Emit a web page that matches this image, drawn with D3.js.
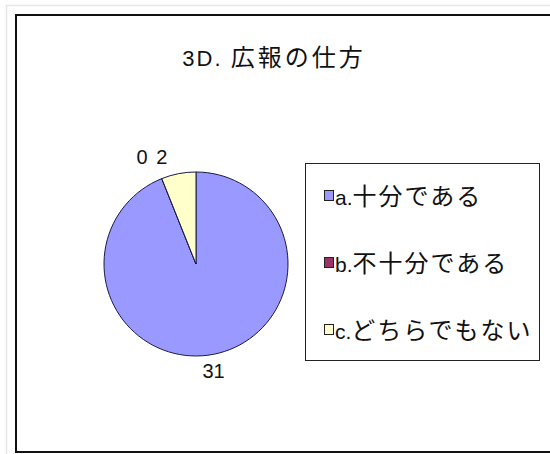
<!DOCTYPE html>
<html><head><meta charset="utf-8">
<script src="https://cdn.jsdelivr.net/npm/d3@7"></script>
<style>
html,body{margin:0;padding:0;background:#fff;}
svg{display:block;}
</style></head>
<body>
<svg id="chart" width="550" height="454"></svg>
<script>
const title = "3D. 広報の仕方";
const categories = ["a.十分である", "b.不十分である", "c.どちらでもない"];
const values = [31, 0, 2];
const colors = ["#9999FF", "#993366", "#FFFFCC"];

const svg = d3.select("#chart");
const font = "'Liberation Sans', Arial, 'Noto Sans CJK JP', sans-serif";

// write text as runs: Latin and CJK sized separately
function runs(sel, str, latinSize, latinSpacing, cjkSize, cjkSpacing) {
  const parts = str.match(/[\u3000-\u9fff]+|[^\u3000-\u9fff]+/g);
  parts.forEach(p => {
    const cjk = /[\u3000-\u9fff]/.test(p);
    sel.append("tspan").attr("font-size", cjk ? cjkSize : latinSize)
      .attr("letter-spacing", cjk ? cjkSpacing : latinSpacing).text(p);
  });
}

// page outer light border
svg.append("rect").attr("x", 6.5).attr("y", 5.5).attr("width", 560).attr("height", 460)
  .attr("fill", "none").attr("stroke", "#e6e6e6").attr("stroke-width", 1.5);
svg.append("line").attr("x1", 544.5).attr("x2", 544.5).attr("y1", 18).attr("y2", 450)
  .attr("stroke", "#f0f0f0");
// chart frame
svg.append("rect").attr("x", 16).attr("y", 15).attr("width", 560).attr("height", 437)
  .attr("fill", "#fff").attr("stroke", "#111").attr("stroke-width", 2);

const t = svg.append("text").attr("x", 274).attr("y", 66).attr("text-anchor", "middle")
  .attr("font-family", font).attr("fill", "#111");
runs(t, title.replace(" ", "\u00a0"), 22, 2, 24, 3);

const cx = 196, cy = 264, r = 92;
const pie = d3.pie().sort(null).value(d => d)(values);
const arc = d3.arc().innerRadius(0).outerRadius(r);
const g = svg.append("g").attr("transform", `translate(${cx},${cy})`);
g.selectAll("path").data(pie).enter().append("path")
  .attr("d", arc).attr("fill", (d, i) => colors[i])
  .attr("stroke", "#1a1a40").attr("stroke-width", 1);

// labels
const labelArc = d3.arc().innerRadius(109).outerRadius(109);
const labels = pie.map((d, i) => {
  const [x, y] = labelArc.centroid(d);
  const mid = (d.startAngle + d.endAngle) / 2;
  const s = Math.sin(mid);
  let anchor = Math.abs(Math.cos(mid)) > 0.95 && Math.cos(mid) < 0 ? "middle" : (s < 0 ? "end" : "start");
  let lx = anchor === "end" ? x - 8 : (anchor === "start" ? x + 8 : x - 3);
  return {x: lx, y: y, anchor, text: String(d.data), i};
});
// align overlapping small-slice labels on the same line
for (let k = 1; k < labels.length; k++) {
  for (let j = 0; j < labels.length; j++) {
    if (j !== k && Math.abs(labels[k].y - labels[j].y) < 14 && Math.abs(labels[k].x - labels[j].x) < 30) {
      const yy = Math.min(labels[k].y, labels[j].y);
      labels[k].y = yy; labels[j].y = yy;
    }
  }
}
g.selectAll("text.lbl").data(labels).enter().append("text").attr("class", "lbl")
  .attr("x", d => d.x).attr("y", d => d.y).attr("dy", "0.36em")
  .attr("text-anchor", d => d.anchor)
  .attr("font-family", font).attr("font-size", 20).attr("fill", "#111")
  .text(d => d.text);

// legend
const lg = svg.append("g");
lg.append("rect").attr("x", 305.5).attr("y", 163.5).attr("width", 234).attr("height", 197)
  .attr("fill", "#fff").attr("stroke", "#222").attr("stroke-width", 1);
const ly = d3.scalePoint().domain(categories).range([198, 332]);
categories.forEach((c, i) => {
  const y = ly(c);
  lg.append("rect").attr("x", 324.5).attr("y", y - 7.5).attr("width", 9).attr("height", 10)
    .attr("fill", colors[i]).attr("stroke", "#222").attr("stroke-width", 1);
  const tx = lg.append("text").attr("x", 335).attr("y", y + 7)
    .attr("font-family", font).attr("fill", "#111");
  runs(tx, c, 21, 0, 24, 2);
});
</script>
</body></html>
